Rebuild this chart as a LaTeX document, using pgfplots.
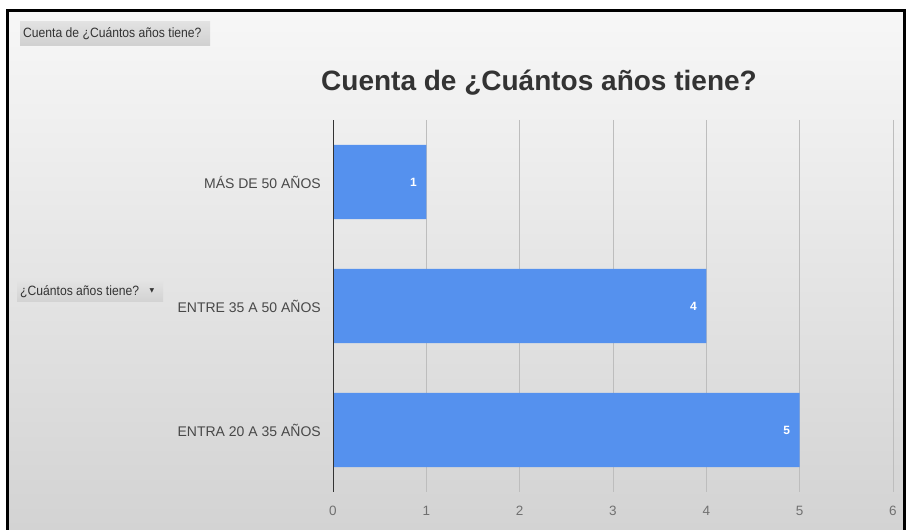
\documentclass[border=0pt]{standalone}
\usepackage{pgfplots}
\pgfplotsset{compat=1.18}
\usepackage{fontspec}
\setmainfont{Liberation Sans}
\newfontfamily\narrowfont[FakeStretch=0.9]{Liberation Sans}
\newfontfamily\symfont{DejaVu Sans}
\definecolor{barblue}{HTML}{5591EE}
\definecolor{titlegray}{HTML}{333333}
\definecolor{labgray}{HTML}{484848}
\definecolor{tickgray}{HTML}{707070}
\definecolor{gridgray}{HTML}{BDBDBD}
\begin{document}
\begin{tikzpicture}[x=1pt,y=1pt]
\useasboundingbox (0,0) rectangle (906,530);
\fill[white] (0,0) rectangle (906,530);
\shade[top color={rgb,255:red,247;green,247;blue,247}, bottom color={rgb,255:red,211;green,211;blue,211}] (8,0) rectangle (905,520);
\draw[line width=2.5pt, black] (7.5,0) -- (7.5,519.5) -- (904.5,519.5) -- (904.5,0);
% top-left button
\shade[top color={rgb,255:red,226;green,226;blue,226}, bottom color={rgb,255:red,208;green,208;blue,208}] (20,484) rectangle (210,508);
\node[anchor=west, inner sep=0pt, text=titlegray, font=\narrowfont\fontsize{13.5}{15}\selectfont] at (23,496) {Cuenta de ¿Cuántos años tiene?};
% left button
\shade[top color={rgb,255:red,226;green,226;blue,226}, bottom color={rgb,255:red,210;green,210;blue,210}] (17,228) rectangle (163,248);
\node[anchor=west, inner sep=0pt, text=titlegray, font=\narrowfont\fontsize{13.5}{15}\selectfont] at (20,238) {¿Cuántos años tiene?};
\node[inner sep=0pt, text=titlegray, font=\symfont\fontsize{6}{7}\selectfont] at (152,239) {▼};
% title
\node[anchor=base, inner sep=0pt, text=titlegray, font=\bfseries\fontsize{28}{32}\selectfont] at (539,439) {Cuenta de ¿Cuántos años tiene?};
\begin{axis}[
  at={(333pt,38pt)}, anchor=south west,
  scale only axis, width=560pt, height=372pt,
  xbar, bar width=0.6,
  xmin=0, xmax=6, ymin=-0.5, ymax=2.5,
  xtick={0,1,2,3,4,5,6},
  ytick={0,1,2},
  yticklabels={ENTRA 20 A 35 AÑOS, ENTRE 35 A 50 AÑOS, MÁS DE 50 AÑOS},
  xmajorgrids,
  grid style={gridgray, line width=0.8pt},
  axis line style={draw=none},
  major tick length=0pt,
  /pgf/number format/assume math mode=true,
  yticklabel style={inner sep=0pt, xshift=-12pt, text=labgray, font=\fontsize{14}{16}\selectfont},
  xticklabel style={inner sep=0pt, yshift=-14pt, text=tickgray, font=\fontsize{13.5}{15}\selectfont},
  nodes near coords,
  every node near coord/.append style={anchor=east, xshift=-6pt, text=white, font=\bfseries\fontsize{12}{14}\selectfont},
]
\addplot[fill=barblue, draw=none] coordinates {(5,0) (4,1) (1,2)};
\draw[color=titlegray, line width=1.6pt] (axis cs:0,-0.5) -- (axis cs:0,2.5);
\end{axis}
\end{tikzpicture}
\end{document}
